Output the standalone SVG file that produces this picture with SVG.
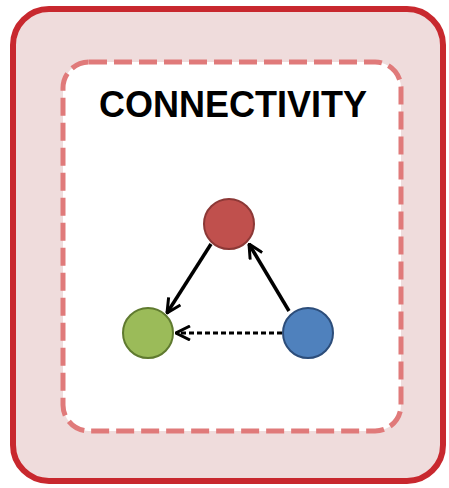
<svg xmlns="http://www.w3.org/2000/svg" width="449" height="488" viewBox="0 0 449 488">
<style>
.outer{fill:#efdcdc;stroke:#c8282e;stroke-width:6}
.inner{fill:#ffffff;stroke:#e07a7a;stroke-width:5;stroke-dasharray:18 7}
.title{font-family:"Liberation Sans",Arial,sans-serif;font-weight:bold;font-size:36px;fill:#000;text-anchor:middle}
.edge{stroke:#000;stroke-width:3.5;fill:none}
.dashed{stroke-width:3;stroke-dasharray:5 3}
</style>
<defs>
<marker id="arr" viewBox="0 0 16 16" refX="15" refY="8" markerWidth="16" markerHeight="16" markerUnits="userSpaceOnUse" orient="auto">
<path d="M1,1 L15,8 L1,15" fill="none" stroke="#000" stroke-width="3"/>
</marker>
</defs>
<g id="outer-frame"><rect class="outer" x="13" y="9" width="430" height="472" rx="36"/></g>
<g id="inner-frame"><rect class="inner" x="63" y="62" width="338" height="369" rx="26"/></g>
<g id="title"><text class="title" x="233" y="117">CONNECTIVITY</text></g>
<g id="connectors">
<line class="edge" x1="211" y1="244" x2="167" y2="313" marker-end="url(#arr)"/>
<line class="edge" x1="289" y1="311" x2="249" y2="244" marker-end="url(#arr)"/>
<line class="edge dashed" x1="282" y1="333" x2="176" y2="333" marker-end="url(#arr)"/>
</g>
<g id="node-red"><circle cx="229" cy="224" r="25" fill="#c0504d" stroke="#8c3836" stroke-width="2"/></g>
<g id="node-green"><circle cx="148" cy="333" r="25" fill="#9bbb59" stroke="#5f7a2f" stroke-width="2"/></g>
<g id="node-blue"><circle cx="308" cy="333" r="25" fill="#4f81bd" stroke="#2c4d7a" stroke-width="2"/></g>
</svg>
